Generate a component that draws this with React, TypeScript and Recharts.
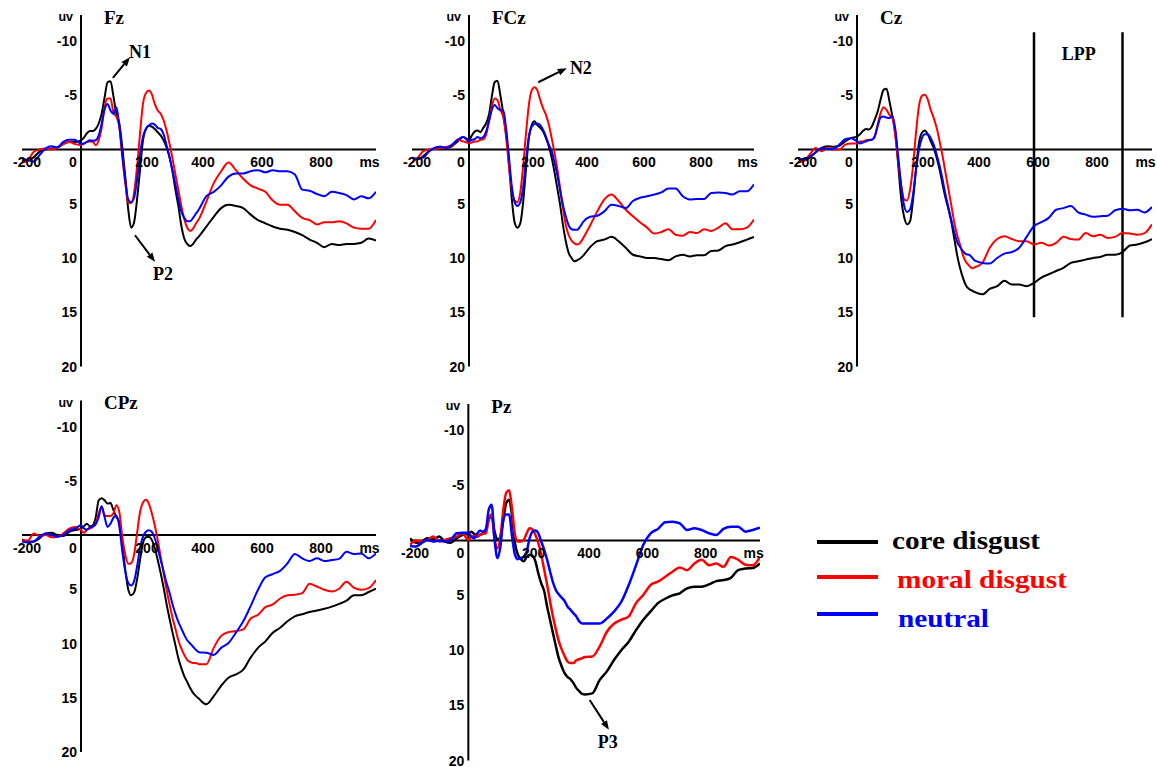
import React from 'react';
import { LineChart, Line, XAxis, YAxis, ReferenceLine, ReferenceDot } from 'recharts';

// ---------- data ----------
const TIMES = [-200, -180, -160, -140, -120, -100, -80, -60, -40, -20, 0,
  10, 20, 30, 40, 50, 60, 70, 80, 90, 100,
  110, 120, 130, 140, 150, 160, 170, 180, 190, 200,
  210, 220, 230, 240, 250, 260, 270, 280, 290, 300,
  310, 320, 330, 340, 350, 360, 370, 380, 390, 400,
  425, 450, 475, 500, 525, 550, 575, 600, 625, 650, 675, 700, 725, 750, 775, 800, 825, 850, 875, 900, 925, 950, 975, 1000];

const X_TICKS = [-200, 0, 200, 400, 600, 800];
const Y_TICKS = [-10, -5, 5, 10, 15, 20];

const FZ_CORE = [1.0, 1.0, 0.7, 0.2, 0.0, -0.1, -0.2, -0.5, -0.7, -0.7, -0.85,
  -1.1, -1.5, -1.7, -1.7, -1.9, -2.4, -3.3, -4.8, -6.2, -6.3,
  -4.9, -3.3, -2.4, -0.2, 2.5, 5.5, 7.2, 6.7, 4.6, 1.9,
  -0.85, -1.9, -2.2, -2.1, -1.9, -1.6, -1.3, -0.85, -0.2, 0.7,
  2.0, 3.7, 5.2, 7.0, 8.2, 8.7, 8.9, 8.7, 8.3, 8.0,
  7.1, 6.2, 5.4, 5.1, 5.2, 5.4, 6.0, 6.5, 6.8, 7.1, 7.3, 7.4, 7.6, 7.9, 8.3, 8.6, 9.0, 8.7, 8.8, 8.7, 8.7, 8.6, 8.2, 8.4];
const FZ_MORAL = [1.2, 1.0, 0.2, 0.0, -0.1, 0.0, -0.2, -0.5, -0.7, -0.5, -0.4,
  -0.55, -0.7, -0.75, -0.7, -0.4, -0.85, -2.0, -3.9, -4.7, -4.7,
  -3.4, -3.0, -2.1, 0.7, 3.1, 4.9, 4.95, 4.0, 1.6, -1.45,
  -4.2, -5.2, -5.45, -5.1, -4.2, -3.6, -3.3, -2.7, -1.75, -0.55,
  0.8, 2.3, 3.7, 5.2, 6.4, 7.2, 7.5, 7.3, 6.8, 6.4,
  4.8, 3.1, 2.0, 1.2, 1.9, 2.7, 3.3, 3.6, 3.9, 4.7, 5.1, 5.1, 5.7, 6.3, 6.5, 6.9, 6.7, 6.7, 6.6, 6.8, 7.2, 7.3, 7.3, 6.5];
const FZ_NEUTRAL = [0.8, 1.0, 1.1, 0.5, -0.1, -0.3, -0.2, -0.7, -0.9, -0.9, -0.5,
  -0.55, -0.7, -0.85, -0.8, -0.85, -1.3, -2.4, -3.7, -4.2, -3.6,
  -3.3, -3.9, -2.1, 0.4, 2.8, 4.6, 4.85, 4.45, 2.8, 0.5,
  -1.15, -1.9, -2.2, -2.4, -2.3, -2.0, -1.9, -1.4, -0.4, 0.7,
  1.9, 3.2, 4.6, 5.7, 6.3, 6.6, 6.6, 6.3, 5.9, 5.5,
  4.3, 3.9, 3.3, 2.5, 2.2, 2.2, 2.0, 1.9, 2.1, 1.9, 2.0, 2.0, 2.3, 3.7, 3.8, 4.1, 4.3, 3.9, 4.0, 4.2, 4.6, 4.3, 4.5, 3.9];

const FCZ_CORE = [0.75, 0.9, 0.6, 0.15, -0.15, -0.25, -0.15, -0.3, -0.75, -1.15, -0.9,
  -1.3, -1.65, -1.75, -1.6, -2.0, -2.4, -3.2, -4.85, -6.2, -6.35,
  -5.0, -3.35, -1.5, 1.2, 4.5, 6.7, 7.2, 6.8, 4.85, 1.8,
  -1.05, -2.25, -2.6, -2.25, -2.0, -1.65, -1.05, -0.3, 0.75, 2.1,
  3.6, 5.15, 7.0, 8.5, 9.55, 10.0, 10.3, 10.2, 10.05, 9.8,
  9.0, 8.45, 8.3, 8.05, 8.45, 9.05, 9.7, 9.85, 10.0, 10.0, 10.1, 10.2, 9.85, 9.7, 9.85, 9.75, 9.75, 9.35, 9.3, 8.9, 8.75, 8.55, 8.3, 8.05];
const FCZ_MORAL = [1.2, 0.75, 0.15, 0.0, -0.05, -0.15, -0.25, -0.35, -0.9, -0.75, -0.6,
  -0.65, -0.75, -0.75, -0.9, -0.95, -1.35, -2.6, -3.95, -4.7, -4.55,
  -3.65, -3.0, -1.2, 1.5, 3.65, 4.7, 4.85, 3.95, 1.5, -1.5,
  -4.1, -5.45, -5.75, -5.45, -4.55, -3.8, -3.2, -2.3, -1.05, 0.3,
  1.8, 3.65, 5.45, 7.0, 7.9, 8.4, 8.65, 8.75, 8.6, 8.2,
  7.0, 5.7, 4.6, 4.15, 4.75, 5.55, 6.15, 6.7, 7.2, 7.75, 7.6, 7.35, 7.85, 7.95, 7.6, 7.7, 7.35, 7.5, 7.2, 6.8, 7.35, 7.35, 7.2, 6.45];
const FCZ_NEUTRAL = [0.75, 0.85, 0.75, 0.15, -0.15, -0.25, -0.15, -0.45, -0.9, -1.15, -0.75,
  -0.9, -0.95, -1.15, -1.05, -1.15, -1.65, -2.6, -3.65, -4.1, -3.8,
  -3.65, -3.65, -2.0, 0.6, 3.35, 4.85, 5.2, 4.85, 3.5, 0.9,
  -1.2, -2.1, -2.35, -2.4, -2.25, -1.8, -1.2, -0.45, 0.15, 1.2,
  2.4, 3.8, 5.15, 6.2, 7.0, 7.35, 7.4, 7.4, 7.1, 6.7,
  6.2, 6.1, 5.7, 5.1, 5.2, 5.4, 4.75, 4.45, 4.3, 4.15, 3.95, 3.6, 3.6, 4.3, 4.6, 4.55, 4.55, 4.0, 3.95, 4.0, 4.15, 3.85, 3.85, 3.2];

const CZ_CORE = [0.75, 1.0, 0.75, 0.25, -0.15, -0.3, -0.25, -0.35, -0.75, -1.05, -1.2,
  -1.4, -1.7, -1.9, -1.85, -2.1, -2.75, -3.5, -4.6, -5.5, -5.6,
  -4.45, -3.05, -1.55, 1.5, 4.6, 6.25, 6.9, 6.6, 4.6, 1.85,
  -0.6, -1.55, -1.75, -1.4, -0.75, -0.15, 0.75, 1.85, 3.2, 4.45,
  5.5, 6.7, 8.25, 9.8, 11.0, 11.9, 12.55, 12.85, 13.0, 13.15,
  13.35, 12.85, 12.6, 12.1, 12.45, 12.45, 12.6, 12.3, 11.8, 11.5, 11.2, 10.9, 10.45, 10.3, 10.15, 10.0, 9.9, 9.7, 9.7, 9.45, 8.85, 8.75, 8.55, 8.25];
const CZ_MORAL = [1.2, 1.05, 0.45, -0.15, 0.15, -0.15, 0.0, 0.0, -0.45, -0.55, -0.55,
  -0.75, -0.75, -0.85, -0.9, -0.9, -1.2, -2.3, -3.35, -3.9, -3.65,
  -3.2, -2.9, -1.2, 1.2, 3.35, 4.6, 4.7, 3.65, 1.5, -1.55,
  -4.0, -4.95, -5.05, -4.6, -3.65, -2.9, -2.0, -0.75, 0.6, 2.15,
  3.65, 5.2, 6.75, 7.95, 8.85, 9.8, 10.4, 10.7, 10.95, 10.85,
  10.45, 9.05, 8.25, 8.0, 8.25, 8.45, 8.45, 8.75, 8.6, 8.85, 8.6, 8.05, 8.25, 8.3, 7.7, 8.0, 7.85, 8.15, 8.05, 7.7, 7.75, 7.85, 7.7, 6.9];
const CZ_NEUTRAL = [0.85, 0.9, 0.65, 0.25, -0.15, -0.05, -0.05, -0.45, -0.95, -1.05, -0.75,
  -0.55, -0.65, -0.75, -0.85, -0.9, -1.2, -2.15, -2.95, -3.05, -2.95,
  -2.9, -3.1, -1.85, 0.75, 3.35, 5.2, 5.75, 5.5, 4.15, 1.85,
  0.0, -1.05, -1.4, -1.4, -1.05, -0.45, 0.45, 1.5, 2.75, 4.15,
  5.35, 6.55, 7.65, 8.55, 9.0, 9.4, 9.65, 9.7, 9.95, 10.25,
  10.45, 10.5, 10.0, 9.6, 9.45, 9.05, 8.05, 7.05, 6.7, 6.3, 5.55, 5.4, 5.2, 5.8, 6.0, 6.2, 6.15, 6.1, 5.6, 5.45, 5.6, 5.55, 5.8, 5.3];

const CPZ_CORE = [0.4, 0.6, 0.6, 0.3, -0.15, -0.2, 0.0, 0.1, -0.3, -0.45, -0.6,
  -0.8, -1.05, -0.8, -0.9, -1.65, -3.2, -3.4, -3.2, -2.9, -2.95,
  -2.3, -1.65, -1.2, 0.75, 3.2, 5.0, 5.55, 5.3, 4.1, 2.3,
  0.75, 0.2, 0.15, 0.45, 1.2, 2.3, 3.5, 4.85, 6.35, 7.7,
  8.95, 10.15, 11.35, 12.25, 13.0, 13.55, 14.1, 14.55, 14.85, 15.1,
  15.6, 14.85, 13.9, 13.15, 12.85, 12.4, 11.3, 10.4, 9.8, 9.0, 8.55, 7.95, 7.5, 7.3, 7.1, 6.95, 6.8, 6.6, 6.35, 6.05, 5.55, 5.55, 5.25, 4.95];
const CPZ_MORAL = [0.45, 0.5, -0.15, 0.1, 0.0, 0.2, 0.15, -0.15, -0.6, -0.75, -0.45,
  -0.2, -0.5, -0.6, -0.75, -1.05, -2.0, -2.6, -1.8, -1.75, -1.75,
  -2.0, -2.75, -2.1, 0.15, 1.8, 2.65, 2.6, 1.8, -0.15, -2.1,
  -3.0, -3.25, -2.9, -2.0, -0.9, 0.45, 2.0, 3.5, 5.0, 6.35,
  7.6, 8.65, 9.7, 10.45, 11.05, 11.5, 11.7, 11.8, 11.8, 11.9,
  11.9, 10.4, 9.3, 8.95, 8.85, 8.7, 7.7, 7.35, 6.65, 6.4, 5.85, 5.55, 5.5, 5.35, 4.5, 4.75, 5.05, 5.2, 4.95, 4.3, 4.85, 5.05, 4.9, 4.15];
const CPZ_NEUTRAL = [0.6, 0.7, 0.6, 0.15, -0.15, 0.0, 0.15, 0.0, -0.45, -0.6, -0.9,
  -0.6, -0.5, -0.7, -0.8, -1.0, -1.65, -2.65, -1.65, -0.75, -1.05,
  -1.6, -1.8, -0.75, 1.5, 3.35, 4.4, 4.65, 4.25, 2.9, 1.2,
  0.15, -0.3, -0.45, -0.3, 0.3, 1.2, 2.3, 3.35, 4.4, 5.3,
  6.35, 7.25, 8.0, 8.6, 9.2, 9.7, 10.0, 10.3, 10.6, 10.8,
  10.85, 11.05, 10.4, 9.95, 9.0, 7.95, 6.55, 5.05, 3.9, 3.6, 3.3, 2.6, 1.75, 2.15, 2.4, 2.15, 2.4, 2.3, 2.2, 1.55, 1.75, 1.7, 2.15, 1.7];

const PZ_CORE = [-0.2, 0.2, 0.1, -0.2, -0.1, -0.35, 0.1, 0.2, -0.2, -0.5, -0.6,
  -0.8, -0.6, -0.35, -0.5, -0.65, -1.0, -1.9, -2.2, -0.8, -0.05,
  -0.35, -1.9, -3.4, -3.7, -2.2, 0.25, 1.3, 1.7, 1.9, 1.5,
  1.3, 1.4, 1.9, 3.0, 3.9, 4.6, 6.0, 7.2, 8.4, 9.6,
  10.7, 11.45, 12.05, 12.4, 12.6, 12.95, 13.4, 13.7, 13.95, 14.0,
  13.9, 12.7, 11.9, 10.85, 9.95, 9.2, 8.15, 7.2, 6.45, 5.7, 5.3, 5.0, 4.8, 4.35, 4.2, 4.2, 4.0, 3.7, 3.6, 3.4, 2.7, 2.55, 2.5, 2.1];
const PZ_MORAL = [0.4, 0.0, 0.1, -0.05, -0.35, 0.1, -0.05, -0.2, -0.35, -0.65, -0.05,
  -0.35, -0.4, -0.35, -0.5, -0.6, -0.65, -1.9, -2.35, -0.1, 0.7,
  -0.3, -2.8, -4.35, -4.55, -2.8, -0.5, 0.1, 0.1, -0.05, -0.65,
  -1.1, -1.0, -0.5, 0.25, 1.3, 2.65, 4.0, 5.5, 6.9, 8.1,
  9.15, 9.9, 10.5, 11.0, 11.15, 11.15, 10.9, 10.8, 10.7, 10.6,
  10.55, 9.65, 8.3, 7.55, 7.2, 6.9, 5.7, 4.95, 4.05, 3.75, 3.3, 2.85, 2.45, 2.7, 2.1, 1.75, 2.25, 2.1, 2.4, 1.5, 1.75, 2.2, 2.25, 1.5];
const PZ_NEUTRAL = [0.5, 0.55, 0.25, -0.05, 0.1, 0.0, 0.1, -0.05, -0.65, -0.7, -0.7,
  -0.35, -0.2, -0.6, -0.9, -0.8, -1.0, -2.8, -3.25, -0.05, 1.6,
  0.55, -1.9, -2.35, -2.35, -0.35, 1.3, 1.7, 1.6, 1.5, 1.0,
  -0.2, -0.8, -0.9, -0.65, 0.1, 0.85, 1.75, 2.8, 3.8, 4.5,
  4.9, 5.2, 5.5, 6.0, 6.3, 6.6, 6.9, 7.35, 7.55, 7.55,
  7.55, 7.55, 7.1, 6.45, 5.55, 4.05, 2.25, 0.4, -0.65, -1.05, -1.65, -1.7, -1.55, -0.95, -1.1, -0.95, -0.65, -0.5, -1.05, -1.25, -1.25, -0.8, -0.95, -1.15];

const SERIES = [
  { key: 'core', name: 'core disgust', color: '#000000' },
  { key: 'moral', name: 'moral disgust', color: '#ff0000' },
  { key: 'neutral', name: 'neutral', color: '#0000ff' },
];

const buildRows = (core: number[], moral: number[], neutral: number[]) =>
  TIMES.map((t, i) => ({ t, core: core[i], moral: moral[i], neutral: neutral[i] }));

// ---------- layout ----------
const SANS = "'Liberation Sans', Arial, sans-serif";
const SERIF = "'Liberation Serif', 'Times New Roman', serif";
const X_DX: Record<number, number> = { [-200]: 5, 0: -8, 200: 7, 400: 4, 600: 4, 800: 4 };

type Arrow = { from: [number, number]; to: [number, number] };
type Note = { x: number; y: number; text: string; anchor?: string };
type Panel = {
  title: string; left: number; top: number; width: number; height: number;
  margin: { top: number; right: number; bottom: number; left: number };
  rows: any[]; strokeWidth: number;
  notes: Note[]; arrows: Arrow[]; vlines: number[];
};

const PANELS: Panel[] = [
  { title: 'Fz', left: 0, top: 0, width: 390, height: 380, margin: { top: 15, right: 14, bottom: 13.5, left: 22 },
    rows: buildRows(FZ_CORE, FZ_MORAL, FZ_NEUTRAL), strokeWidth: 2,
    notes: [{ x: 163, y: -9.0, text: 'N1' }, { x: 244, y: 11.5, text: 'P2' }],
    arrows: [{ from: [108, -6.6], to: [166, -8.5] }, { from: [183, 7.9], to: [251, 10.35] }], vlines: [] },
  { title: 'FCz', left: 390, top: 0, width: 380, height: 380, margin: { top: 15, right: 16, bottom: 13.5, left: 22 },
    rows: buildRows(FCZ_CORE, FCZ_MORAL, FCZ_NEUTRAL), strokeWidth: 2,
    notes: [{ x: 354, y: -7.55, text: 'N2' }],
    arrows: [{ from: [243, -6.2], to: [343, -7.5] }], vlines: [] },
  { title: 'Cz', left: 780, top: 0, width: 377, height: 380, margin: { top: 15, right: 5, bottom: 13.5, left: 18 },
    rows: buildRows(CZ_CORE, CZ_MORAL, CZ_NEUTRAL), strokeWidth: 2,
    notes: [{ x: 752, y: -8.8, text: 'LPP', anchor: 'middle' }],
    arrows: [], vlines: [600, 900] },
  { title: 'CPz', left: 0, top: 385, width: 390, height: 382, margin: { top: 15.5, right: 14, bottom: 15, left: 22 },
    rows: buildRows(CPZ_CORE, CPZ_MORAL, CPZ_NEUTRAL), strokeWidth: 2,
    notes: [], arrows: [], vlines: [] },
  { title: 'Pz', left: 390, top: 385, width: 400, height: 382, margin: { top: 19, right: 30, bottom: 6.5, left: 20 },
    rows: buildRows(PZ_CORE, PZ_MORAL, PZ_NEUTRAL), strokeWidth: 2.5,
    notes: [{ x: 444, y: 18.3, text: 'P3' }],
    arrows: [{ from: [416, 14.5], to: [482, 17.2] }], vlines: [] },
];

const textShape = (label: string, dx: number, dy: number, opts: any) => (p: any) => (
  <text x={p.cx + dx} y={p.cy + dy} textAnchor={opts.anchor || 'start'} dominantBaseline="central"
    fontFamily={opts.family} fontWeight="bold" fontSize={opts.size} fill="#000">{label}</text>
);

const arrowShape = (p: any) => {
  const { x1, y1, x2, y2 } = p;
  const ang = Math.atan2(y2 - y1, x2 - x1);
  const L = 9, W = 3.5;
  const bx = x2 - L * Math.cos(ang), by = y2 - L * Math.sin(ang);
  const px = -Math.sin(ang) * W, py = Math.cos(ang) * W;
  return (
    <g>
      <line x1={x1} y1={y1} x2={bx} y2={by} stroke="#000" strokeWidth={2} />
      <polygon points={`${x2},${y2} ${bx + px},${by + py} ${bx - px},${by - py}`} fill="#000" />
    </g>
  );
};

function PanelChart({ p }: { p: Panel }) {
  return (
    <div style={{ position: 'absolute', left: p.left, top: p.top }}>
      <LineChart width={p.width} height={p.height} data={p.rows} margin={p.margin}>
        <XAxis type="number" dataKey="t" domain={[-200, 1000]} allowDataOverflow hide />
        <YAxis type="number" domain={[-12.4, 20]} reversed allowDataOverflow hide />
        <ReferenceLine y={0} stroke="#000" strokeWidth={2} ifOverflow="visible" />
        <ReferenceLine x={0} stroke="#000" strokeWidth={2} ifOverflow="visible" />
        {p.vlines.map((v) => (
          <ReferenceLine key={'v' + v} segment={[{ x: v, y: -10.8 }, { x: v, y: 15.45 }]} stroke="#000" strokeWidth={2.5} ifOverflow="visible" />
        ))}
        {SERIES.map((s) => (
          <Line key={s.key} dataKey={s.key} name={s.name} stroke={s.color} strokeWidth={p.strokeWidth}
            type="monotone" dot={false} activeDot={false} isAnimationActive={false} />
        ))}
        {X_TICKS.map((t) => (
          <ReferenceDot key={'xt' + t} x={t} y={0} r={1} ifOverflow="visible"
            shape={textShape(String(t), X_DX[t], 12.5, { anchor: 'middle', family: SANS, size: 14 })} />
        ))}
        <ReferenceDot x={978} y={0} r={1} ifOverflow="visible"
          shape={textShape('ms', 0, 12.5, { anchor: 'middle', family: SANS, size: 14 })} />
        {Y_TICKS.map((v) => (
          <ReferenceDot key={'yt' + v} x={0} y={v} r={1} ifOverflow="visible"
            shape={textShape(String(v), -4, 0, { anchor: 'end', family: SANS, size: 14 })} />
        ))}
        <ReferenceDot x={0} y={-12.2} r={1} ifOverflow="visible"
          shape={textShape('uv', -8, 0, { anchor: 'end', family: SANS, size: 12.5 })} />
        <ReferenceDot x={0} y={-12.2} r={1} ifOverflow="visible"
          shape={textShape(p.title, 23, 0, { anchor: 'start', family: SERIF, size: 19 })} />
        {p.notes.map((n) => (
          <ReferenceDot key={'n' + n.text} x={n.x} y={n.y} r={1} ifOverflow="visible"
            shape={textShape(n.text, 0, 0, { anchor: n.anchor || 'start', family: SERIF, size: 18 })} />
        ))}
        {p.arrows.map((a, i) => (
          <ReferenceLine key={'a' + i} segment={[{ x: a.from[0], y: a.from[1] }, { x: a.to[0], y: a.to[1] }]}
            ifOverflow="visible" shape={arrowShape} />
        ))}
      </LineChart>
    </div>
  );
}

const LEGEND_POS = [
  { lineY: 542, textX: 892, baseY: 549, len: 148 },
  { lineY: 577, textX: 897, baseY: 588, len: 170 },
  { lineY: 614, textX: 898, baseY: 627, len: 91 },
];

function LegendBox() {
  return (
    <svg width={1157} height={767} style={{ position: 'absolute', left: 0, top: 0, pointerEvents: 'none' }}>
      {SERIES.map((s, i) => (
        <g key={s.key}>
          <line x1={817} x2={878} y1={LEGEND_POS[i].lineY} y2={LEGEND_POS[i].lineY} stroke={s.color} strokeWidth={4} />
          <text x={LEGEND_POS[i].textX} y={LEGEND_POS[i].baseY} fill={s.color} fontFamily={SERIF} fontWeight="bold"
            fontSize={26} textLength={LEGEND_POS[i].len} lengthAdjust="spacingAndGlyphs">{s.name}</text>
        </g>
      ))}
    </svg>
  );
}

export default function App() {
  return (
    <div style={{ position: 'absolute', left: 0, top: 0, width: 1157, height: 767, background: '#fff', overflow: 'hidden' }}>
      {PANELS.map((p) => <PanelChart key={p.title} p={p} />)}
      <LegendBox />
    </div>
  );
}
